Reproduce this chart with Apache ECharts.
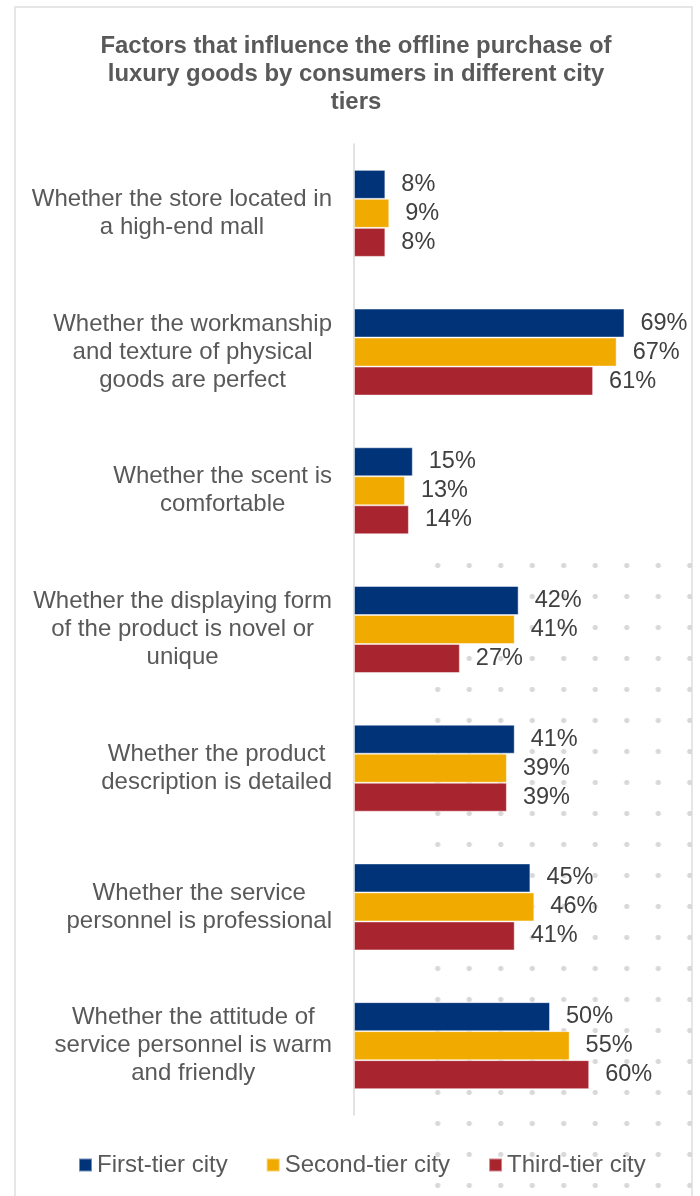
<!DOCTYPE html>
<html>
<head>
<meta charset="utf-8">
<script src="https://cdn.jsdelivr.net/npm/echarts@6/dist/echarts.min.js"></script>
<style>
  html, body { margin: 0; padding: 0; background: #ffffff; }
  #wrap { position: relative; width: 700px; height: 1196px; overflow: hidden; }
  #frame { position: absolute; left: 14px; top: 6px; width: 679px; height: 1220px; border: 2px solid #e6e6e6; box-sizing: border-box; }
  #dots { position: absolute; left: 422px; top: 550px; width: 270px; height: 646px;
          background-image: radial-gradient(circle, #d8d8d8 2.2px, rgba(216,216,216,0) 3px);
          background-size: 31.5px 31px; }
  #chart { position: absolute; left: 0; top: 0; width: 700px; height: 1196px; }
</style>
</head>
<body>
<div id="wrap">
  <div id="frame"></div>
  <div id="dots"></div>
  <div id="chart"></div>
</div>
<script>
const titleText = 'Factors that influence the offline purchase of\nluxury goods by consumers in different city\ntiers';
const categories = [
  'Whether the store located in\na high-end mall',
  'Whether the workmanship\nand texture of physical\ngoods are perfect',
  'Whether the scent is\ncomfortable',
  'Whether the displaying form\nof the product is novel or\nunique',
  'Whether the product\ndescription is detailed',
  'Whether the service\npersonnel is professional',
  'Whether the attitude of\nservice personnel is warm\nand friendly'
];
const seriesNames = ['First-tier city', 'Second-tier city', 'Third-tier city'];
const firstTier = [8, 69, 15, 42, 41, 45, 50];
const secondTier = [9, 67, 13, 41, 39, 46, 55];
const thirdTier = [8, 61, 14, 27, 39, 41, 60];
const colors = ['#013378', '#F0AA00', '#A8252F'];

const FONT = "'Liberation Sans', Arial, sans-serif";
const chart = echarts.init(document.getElementById('chart'), null, { renderer: 'canvas' });

function makeSeries(name, data, color) {
  return {
    name: name,
    type: 'bar',
    data: data,
    barWidth: 29,
    barGap: '0%',
    itemStyle: { color: color, borderColor: 'rgba(255,255,255,0.45)', borderWidth: 1 },
    label: {
      show: true,
      position: 'right',
      distance: 16,
      formatter: '{c}%',
      color: '#404040',
      fontFamily: FONT,
      fontSize: 23.5
    },
    emphasis: { disabled: true }
  };
}

chart.setOption({
  animation: false,
  backgroundColor: 'transparent',
  title: {
    text: titleText,
    left: 351,
    textAlign: 'center',
    top: 27,
    textStyle: {
      fontFamily: FONT,
      fontWeight: 'bold',
      fontSize: 23.9,
      lineHeight: 28,
      color: '#595959'
    }
  },
  legend: {
    data: seriesNames,
    left: 78,
    top: 1153,
    padding: 0,
    itemWidth: 13,
    itemHeight: 13,
    itemGap: 38,
    icon: 'rect',
    textStyle: { fontFamily: FONT, fontSize: 24, color: '#595959', padding: [0, 0, 0, 0] }
  },
  grid: { left: 354, top: 144, bottom: 81, right: 32.4, containLabel: false },
  xAxis: {
    type: 'value',
    min: 0,
    max: 80,
    show: false,
    splitLine: { show: false }
  },
  yAxis: {
    type: 'category',
    data: categories,
    inverse: true,
    axisLine: { show: true, lineStyle: { color: '#d9d9d9', width: 1.5 } },
    axisTick: { show: false },
    axisLabel: {
      margin: 22,
      formatter: function (v) { return '{c|' + v + '}'; },
      rich: {
        c: {
          align: 'center',
          fontFamily: FONT,
          fontSize: 24,
          lineHeight: 28,
          color: '#595959'
        }
      }
    }
  },
  series: [
    makeSeries(seriesNames[0], firstTier, colors[0]),
    makeSeries(seriesNames[1], secondTier, colors[1]),
    makeSeries(seriesNames[2], thirdTier, colors[2])
  ]
});
</script>
</body>
</html>
